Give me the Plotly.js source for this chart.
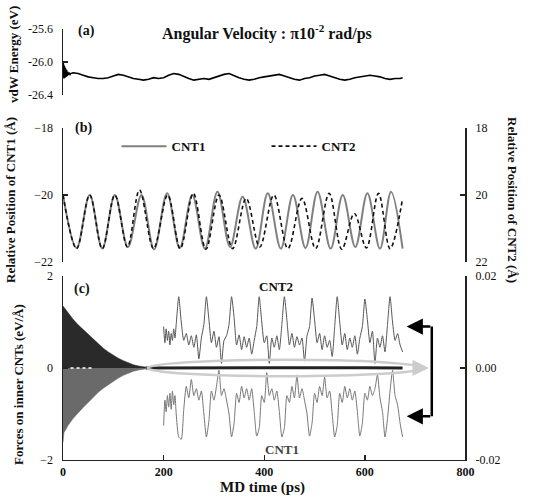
<!DOCTYPE html>
<html>
<head>
<meta charset="utf-8">
<script src="https://cdn.plot.ly/plotly-3.0.1.min.js"></script>
<style>html,body{margin:0;padding:0;background:#fff;}#chart{width:547px;height:499px;}</style>
</head>
<body>
<div id="chart"></div>
<script>
// ---------- Panel (a): vdW energy (eV) ----------
const vdwBurstT = [0,0.5,1,1.5,2,2.5,3,3.5,4,4.5,5,5.5,6,6.5,7,7.5,8,8.5,9,9.5,10,11,12,13,14,15];
const vdwBurstV = [-26.10,-26.01,-26.19,-26.03,-26.20,-26.05,-26.19,-26.07,-26.19,-26.08,-26.18,-26.09,-26.18,-26.10,-26.17,-26.11,-26.17,-26.12,-26.16,-26.12,-26.16,-26.13,-26.15,-26.14,-26.15,-26.14];
const vdwT = [20,30,40,50,60,70,80,90,100,110,120,130,140,150,160,170,180,190,200,210,220,230,240,250,260,270,280,290,300,310,320,330,340,350,360,370,380,390,400,410,420,430,440,450,460,470,480,490,500,510,520,530,540,550,560,570,580,590,600,610,620,630,640,650,660,670,675];
const vdwV = [-26.13,-26.14,-26.16,-26.18,-26.19,-26.20,-26.20,-26.19,-26.17,-26.15,-26.16,-26.18,-26.20,-26.21,-26.22,-26.21,-26.19,-26.20,-26.19,-26.16,-26.14,-26.15,-26.18,-26.20,-26.22,-26.21,-26.20,-26.21,-26.19,-26.17,-26.15,-26.14,-26.17,-26.19,-26.21,-26.22,-26.21,-26.19,-26.18,-26.17,-26.16,-26.15,-26.17,-26.19,-26.21,-26.22,-26.20,-26.19,-26.17,-26.16,-26.15,-26.17,-26.19,-26.21,-26.22,-26.21,-26.19,-26.18,-26.17,-26.16,-26.17,-26.18,-26.20,-26.21,-26.20,-26.20,-26.19];

// ---------- Panel (b): relative positions (Å) ----------
const cnt1PosT = [0,27,53,78,103,129,156,181,207,232,257,282,307,332,357,383,407,433,457,482,506,532,556,581,605,630,652,675];
const cnt1PosV = [-20.0,-21.58,-20.0,-21.6,-20.0,-21.55,-20.0,-21.62,-19.95,-21.58,-20.0,-21.6,-19.9,-21.55,-20.05,-21.6,-19.95,-21.6,-20.0,-21.58,-19.9,-21.6,-20.0,-21.55,-19.95,-21.6,-19.9,-21.6];
const cnt2PosT = [0,27,53,78,103,128,152,180,208,233,259,284,310,337,364,391,419,447,475,502,529,554,579,603,627,650,675];
const cnt2PosV = [20.0,21.6,20.0,21.6,20.0,21.55,19.85,21.6,20.0,21.6,19.95,21.62,20.0,21.6,20.1,21.55,20.0,21.6,20.1,21.6,19.95,21.62,20.55,21.58,19.95,21.6,20.1];

// ---------- Panel (c): forces ----------
const envT = [0,2,5,10,20,30,40,50,60,70,80,90,100,110,120,130,140,150,160,170];
const envUp = [1.35,1.32,1.28,1.2,1.06,0.94,0.84,0.74,0.62,0.52,0.43,0.35,0.28,0.21,0.16,0.11,0.07,0.045,0.025,0.01];
const envLo = [-1.62,-1.4,-1.35,-1.25,-1.1,-0.97,-0.86,-0.75,-0.63,-0.53,-0.44,-0.36,-0.29,-0.22,-0.16,-0.11,-0.07,-0.045,-0.025,-0.01];
const gapT = [3,60];
const gapV = [0,0];
const zeroT = [165,300,450,600,675];
const zeroV = [0,0.005,-0.005,0.005,0];
const forceT = [200,202.5,205,207.5,210,212.5,215,217.5,220,222.5,225,
230,235,240,245,250,255,260,265,270,275,
280,285,290,295,300,305,310,315,320,325,
330,335,340,345,350,355,360,365,370,375,
380,385,390,395,400,405,410,415,420,425,
430,435,440,445,450,455,460,465,470,475,
480,485,490,495,500,505,510,515,520,525,
530,535,540,545,550,555,560,565,570,575,
580,585,590,595,600,605,610,615,620,625,
630,635,640,645,650,655,660,665,670,675];
const forceCNT2 = [0.0090,0.0055,0.0085,0.0060,0.0080,0.0050,0.0075,0.0060,0.0085,0.0065,0.0095,
0.0155,0.0100,0.0060,0.0075,0.0050,0.0070,0.0045,0.0072,0.0020,0.0065,
0.0095,0.0155,0.0105,0.0055,0.0080,0.0045,0.0068,0.0010,0.0060,0.0070,
0.0095,0.0155,0.0110,0.0050,0.0072,0.0040,0.0068,0.0045,0.0065,0.0030,
0.0060,0.0090,0.0155,0.0100,0.0055,0.0070,0.0010,0.0065,0.0045,0.0070,
0.0040,0.0095,0.0155,0.0105,0.0050,0.0075,0.0045,0.0068,0.0050,0.0065,
0.0015,0.0070,0.0090,0.0152,0.0105,0.0055,0.0075,0.0040,0.0070,0.0045,
0.0060,0.0025,0.0090,0.0155,0.0100,0.0050,0.0075,0.0040,0.0065,0.0045,
0.0070,0.0030,0.0065,0.0090,0.0150,0.0105,0.0055,0.0080,0.0010,0.0065,
0.0045,0.0070,0.0035,0.0095,0.0155,0.0100,0.0060,0.0075,0.0050,0.0035];
const forceCNT1 = [-0.0125,-0.0070,-0.0095,-0.0060,-0.0085,-0.0055,-0.0090,-0.0050,-0.0080,-0.0060,-0.0100,
-0.0150,-0.0155,-0.0090,-0.0040,-0.0065,-0.0025,-0.0060,-0.0045,-0.0070,-0.0050,
-0.0100,-0.0150,-0.0115,-0.0050,-0.0070,-0.0040,-0.0005,-0.0060,-0.0045,-0.0070,
-0.0100,-0.0150,-0.0120,-0.0055,-0.0075,-0.0040,-0.0065,-0.0045,-0.0070,-0.0045,
-0.0095,-0.0148,-0.0130,-0.0060,-0.0075,-0.0010,-0.0060,-0.0045,-0.0070,-0.0050,
-0.0095,-0.0150,-0.0130,-0.0060,-0.0075,-0.0040,-0.0065,-0.0015,-0.0065,-0.0045,
-0.0070,-0.0100,-0.0148,-0.0120,-0.0055,-0.0075,-0.0040,-0.0060,-0.0020,-0.0065,
-0.0050,-0.0100,-0.0150,-0.0125,-0.0055,-0.0075,-0.0040,-0.0065,-0.0045,-0.0070,
-0.0050,-0.0095,-0.0148,-0.0120,-0.0055,-0.0070,-0.0040,-0.0060,-0.0045,-0.0015,
-0.0065,-0.0095,-0.0150,-0.0110,-0.0050,-0.0005,-0.0060,-0.0080,-0.0120,-0.0150];

// ---------- Axis ticks ----------
const xTicks = [0,200,400,600,800];
const vdwTicks = [-26.4,-26.0,-25.6];
const vdwTickText = ['-26.4','-26.0','-25.6'];
const pos1Ticks = [-22,-20,-18];
const pos2Ticks = [18,20,22];
const forceTicks = [-2,0,2];
const forceRTicks = [-0.02,0,0.02];
const forceRTickText = ['-0.02','0.00','0.02'];

const FONT = 'Liberation Serif, Times New Roman, serif';
const AX = '#222';

const traces = [
  {x: vdwBurstT.concat(vdwT), y: vdwBurstV.concat(vdwV), xaxis:'x', yaxis:'y', mode:'lines',
   line:{color:'#000', width:1.6}, showlegend:false},
  {x: cnt1PosT, y: cnt1PosV, xaxis:'x', yaxis:'y2', mode:'lines', name:'CNT1',
   line:{color:'#808080', width:2, shape:'spline', smoothing:1}},
  {x: cnt2PosT, y: cnt2PosV, xaxis:'x', yaxis:'y3', mode:'lines', name:'CNT2',
   line:{color:'#111', width:1.6, dash:'4px,3px', shape:'spline', smoothing:1}},
  {x: envT, y: envUp, xaxis:'x', yaxis:'y4', mode:'lines', fill:'tozeroy',
   fillcolor:'#2a2a2a', line:{color:'#2a2a2a', width:0.5}, showlegend:false},
  {x: envT, y: envLo, xaxis:'x', yaxis:'y4', mode:'lines', fill:'tozeroy',
   fillcolor:'#6a6a6a', line:{color:'#6a6a6a', width:0.5}, showlegend:false},
  {x: gapT, y: gapV, xaxis:'x', yaxis:'y4', mode:'lines',
   line:{color:'#fff', width:1.5, dash:'dot'}, showlegend:false},
  {x: zeroT, y: zeroV, xaxis:'x', yaxis:'y4', mode:'lines',
   line:{color:'#222', width:3}, showlegend:false},
  {x: forceT, y: forceCNT2, xaxis:'x', yaxis:'y5', mode:'lines',
   line:{color:'#555', width:1, shape:'spline', smoothing:0.6}, showlegend:false},
  {x: forceT, y: forceCNT1, xaxis:'x', yaxis:'y5', mode:'lines',
   line:{color:'#777', width:1, shape:'spline', smoothing:0.6}, showlegend:false}
];

function yAx(extra){
  return Object.assign({showline:true, linecolor:AX, linewidth:1.5, ticks:'inside', ticklen:5,
    tickwidth:1.5, tickcolor:AX, showgrid:false, zeroline:false, anchor:'x',
    ticklabelstandoff:6, tickfont:{family:FONT, size:12, color:'#111'}}, extra);
}

const annFont = (s, c) => ({family:FONT, size:s, color:c||'#111', weight:'bold'});
function lab(x, y, text, size, angle, color){
  return {xref:'paper', yref:'paper', x:x, y:y, xanchor:'center', yanchor:'middle',
    text:text, textangle:angle||0, showarrow:false, font:annFont(size, color)};
}

const layout = {
  width:547, height:499,
  margin:{l:0, r:0, t:0, b:0},
  paper_bgcolor:'#fff', plot_bgcolor:'#fff',
  font:{family:FONT, color:'#111'},
  showlegend:true,
  legend:{orientation:'h', x:0.213, y:0.707, xanchor:'left', yanchor:'middle',
    entrywidth:90, entrywidthmode:'pixels', itemwidth:45, bgcolor:'rgba(0,0,0,0)',
    font:{family:FONT, size:13, color:'#111', weight:'bold'}},
  xaxis:{domain:[0.1152,0.851], range:[0,800], anchor:'y4', showline:true, linecolor:AX,
    linewidth:1.5, ticks:'inside', ticklen:5, tickwidth:1.5, tickcolor:AX, tickvals:xTicks,
    showgrid:false, zeroline:false, tickfont:{family:FONT, size:12, color:'#111', weight:'bold'}},
  yaxis: yAx({domain:[0.8096,0.9419], range:[-26.4,-25.6], tickvals:vdwTicks, ticktext:vdwTickText}),
  yaxis2: yAx({domain:[0.4749,0.7435], range:[-22,-18], tickvals:pos1Ticks}),
  yaxis3: yAx({overlaying:'y2', side:'right', range:[22,18], tickvals:pos2Ticks}),
  yaxis4: yAx({domain:[0.0782,0.4469], range:[-2,2], tickvals:forceTicks}),
  yaxis5: yAx({overlaying:'y4', side:'right', range:[-0.02,0.02], tickvals:forceRTicks, ticktext:forceRTickText}),
  shapes:[
    {type:'circle', xref:'x', yref:'y4', x0:168, x1:715, y0:-0.18, y1:0.18,
     line:{color:'#cccccc', width:2.5}},
    {type:'line', xref:'x', yref:'y5', x0:733, x1:733, y0:0.009, y1:-0.0105,
     line:{color:'#000', width:2.5}}
  ],
  annotations:[
    lab(0.488, 1-33/499, 'Angular Velocity : π10<sup>-2</sup> rad/ps', 16),
    lab(86/547, 1-31/499, '(a)', 14),
    lab(83/547, 1-128/499, '(b)', 14),
    lab(82/547, 1-289/499, '(c)', 14),
    lab(13/547, 1-55/499, 'vdW Energy (eV)', 13, -90),
    lab(11/547, 1-200/499, 'Relative Position of CNT1 (Å)', 13, -90),
    lab(512/547, 1-200/499, 'Relative Position of CNT2 (Å)', 13, 90),
    lab(18/547, 1-385/499, 'Forces on inner CNTs (eV/Å)', 13, -90),
    lab(262/547, 1-487/499, 'MD time (ps)', 15),
    {xref:'x', yref:'y4', x:424, y:1.78, text:'CNT2', showarrow:false, font:annFont(13)},
    {xref:'x', yref:'y4', x:436, y:-1.78, text:'CNT1', showarrow:false, font:annFont(13,'#444')},
    {xref:'x', yref:'y4', x:727, y:0, ax:700, ay:0, axref:'x', ayref:'y4', text:'', showarrow:true,
     arrowhead:2, arrowsize:1.3, arrowwidth:2.5, arrowcolor:'#cccccc'},
    {xref:'x', yref:'y5', x:683, y:0.009, ax:733, ay:0.009, axref:'x', ayref:'y5', text:'', showarrow:true,
     arrowhead:2, arrowsize:1.3, arrowwidth:2.5, arrowcolor:'#000'},
    {xref:'x', yref:'y5', x:683, y:-0.0105, ax:733, ay:-0.0105, axref:'x', ayref:'y5', text:'', showarrow:true,
     arrowhead:2, arrowsize:1.3, arrowwidth:2.5, arrowcolor:'#000'}
  ]
};

Plotly.newPlot('chart', traces, layout, {staticPlot:true, displayModeBar:false});
</script>
</body>
</html>
